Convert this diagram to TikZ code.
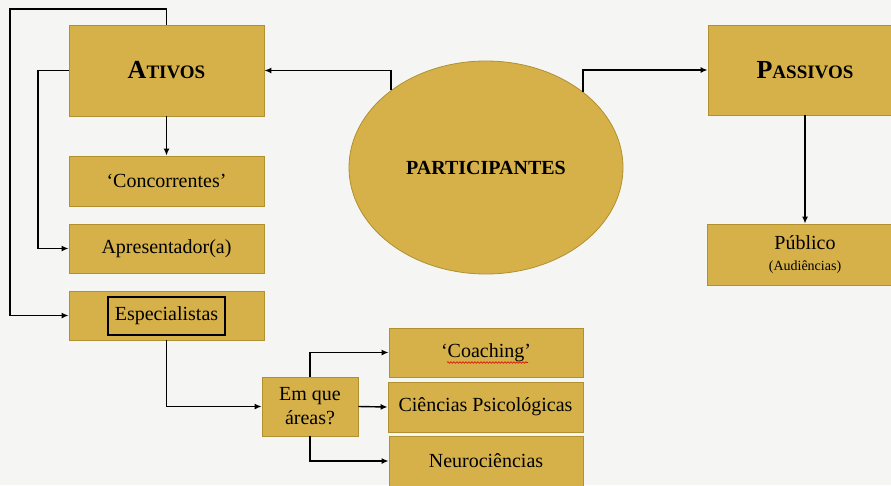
\documentclass[tikz,border=0pt]{standalone}
\usepackage{fontspec}
\setmainfont{Liberation Serif}
\usetikzlibrary{arrows.meta,shapes.geometric,decorations.pathmorphing}
\definecolor{gold}{HTML}{D6B14A}
\definecolor{goldline}{HTML}{B0902F}
\definecolor{bg}{HTML}{F5F5F4}
\tikzset{
  box/.style={draw=goldline,line width=0.8pt,fill=gold,rectangle,inner sep=0pt,align=center,font=\fontsize{20}{24}\selectfont},
  link/.style={line width=1.4pt,draw=black},
  arr/.style={link,-{Latex[length=7pt,width=6pt]}},
}
\begin{document}
\begin{tikzpicture}[x=1pt,y=-1pt]
\fill[bg] (0,0) rectangle (891,485);
\useasboundingbox (0,0) rectangle (891,485);
% boxes
\node[box,minimum width=195,minimum height=91] (A) at (166.5,70.5)
  {\bfseries{\fontsize{26}{26}\selectfont A}{\fontsize{19}{19}\selectfont TIVOS}};
\node[box,minimum width=195,minimum height=50] (C) at (166.5,181) {‘Concorrentes’};
\node[box,minimum width=195,minimum height=49] (Ap) at (166.5,248.5) {Apresentador(a)};
\node[box,minimum width=195,minimum height=49] (E) at (166.5,315.5) {};
\node[draw=black,line width=2pt,rectangle,inner sep=0pt,minimum width=117,minimum height=38,font=\fontsize{20}{24}\selectfont] (Ei) at (E.center) {Especialistas};
\node[box,minimum width=96,minimum height=59] (Em) at (310,406.5) {\fontsize{20}{25}\selectfont Em que\\áreas?};
\node[box,minimum width=194,minimum height=49] (Co) at (486,352.5) {‘Coaching’};
\node[box,minimum width=195,minimum height=50] (Ci) at (485.5,407) {Ciências Psicológicas};
\node[box,minimum width=194,minimum height=50] (Ne) at (486,461) {Neurociências};
\node[draw=goldline,line width=0.8pt,fill=gold,ellipse,inner sep=0pt,minimum width=274,minimum height=213,font=\bfseries\fontsize{20}{24}\selectfont] (P) at (486,167.5) {PARTICIPANTES};
\node[box,minimum width=194,minimum height=90] (Pa) at (805,70) 
  {\bfseries{\fontsize{26}{26}\selectfont P}{\fontsize{19}{19}\selectfont ASSIVOS}};
\node[box,minimum width=196,minimum height=61] (Pu) at (805,254.5)
  {Público\\[-3pt]{\fontsize{14}{16}\selectfont (Audiências)}};
% spell-check squiggle
\draw[red!85!black,line width=0.6pt,decorate,decoration={snake,amplitude=0.8pt,segment length=3pt}]
  ([xshift=-39pt,yshift=-10pt]Co.center) -- ([xshift=42pt,yshift=-10pt]Co.center);
% connectors
\coordinate (L1) at (10,9);
\coordinate (L2) at (38,70.5);
\draw[arr] (A.north) |- (L1) |- (E.west);
\draw[arr] (A.west) -- (L2) |- (Ap.west);
\draw[arr] (A.south) -- (C.north);
\draw[arr] (P.141.5) |- (A.east);
\draw[arr] (P.38.5) |- (Pa.west);
\draw[arr] (Pa.south) -- (Pu.north);
\draw[arr] (E.south) |- (Em.west);
\draw[arr] (Em.north) |- (Co.west);
\draw[arr] (Em.east) -- (Ci.west);
\draw[arr] (Em.south) |- (Ne.west);
\end{tikzpicture}
\end{document}
